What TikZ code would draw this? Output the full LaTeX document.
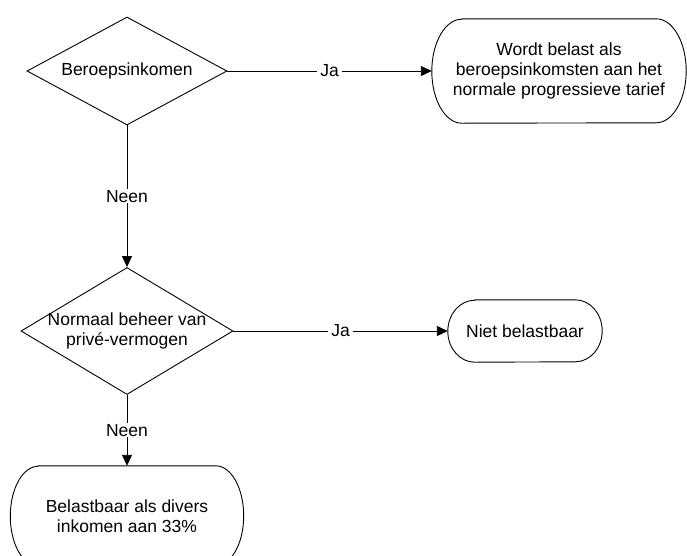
\documentclass[tikz,border=0pt]{standalone}
\usepackage{fontspec}
\setmainfont{Liberation Sans}
\usetikzlibrary{shapes.geometric,arrows.meta}
\newcommand\termshape[3]{%
  \draw[line width=0.9pt] ([xshift=#2]#1.north west) -- ([xshift=-#2]#1.north east)
    arc[start angle=90,end angle=-90,x radius=#2,y radius=#3]
    -- ([xshift=#2]#1.south west)
    arc[start angle=270,end angle=90,x radius=#2,y radius=#3] -- cycle;}
\tikzset{
  txt/.style={font=\fontsize{17.5}{20.2}\selectfont, align=center},
  dia/.style={shape=diamond, draw, line width=0.9pt, inner sep=0pt},
  term/.style={shape=rectangle, inner sep=0pt, txt},
  conn/.style={draw, line width=0.9pt, -{Triangle[length=11pt,width=10pt]}},
  onl/.style={fill=white, inner xsep=3pt, inner ysep=1pt, txt}
}
\begin{document}
\begin{tikzpicture}[x=1pt,y=-1pt]
\useasboundingbox (0,0) rectangle (687,555);
% decisions
\node[dia, minimum width=200pt, minimum height=108pt] (d1) at (127,71) {};
\node[txt] (t1) at (d1.center) {Beroepsinkomen};
\node[dia, minimum width=212pt, minimum height=127pt] (d2) at (127,331) {};
\node[txt] (t2) at (d2.center) {Normaal beheer van\\privé-vermogen};
% terminators
\node[term, minimum width=254pt, minimum height=104pt] (b1) at (559,71)
  {Wordt belast als\\beroepsinkomsten aan het\\normale progressieve tarief};
\termshape{b1}{30pt}{52pt}
\node[term, minimum width=154pt, minimum height=62pt] (b2) at (525,331) {Niet belastbaar};
\termshape{b2}{27pt}{31pt}
\node[term, minimum width=233pt, minimum height=100pt] (b3) at (127,516)
  {Belastbaar als divers\\inkomen aan 33\%};
\termshape{b3}{28pt}{50pt}
% connectors
\draw[conn] (d1.east) -- node[onl]{Ja} (b1.west);
\draw[conn] (d1.south) -- node[onl]{Neen} (d2.north);
\draw[conn] (d2.east) -- node[onl]{Ja} (b2.west);
\draw[conn] (d2.south) -- node[onl]{Neen} (b3.north);
\end{tikzpicture}
\end{document}
